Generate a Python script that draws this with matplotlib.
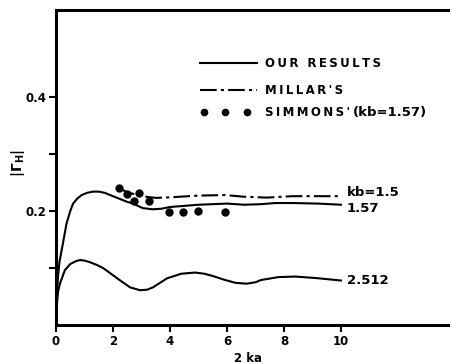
import matplotlib
matplotlib.use("Agg")
import matplotlib.pyplot as plt

# kb = 1.57, our results
x_157 = [0.0, 0.03, 0.07, 0.12, 0.22, 0.37, 0.5, 0.6, 0.75, 0.9, 1.1, 1.3, 1.5, 1.7,
         2.0, 2.2, 2.5, 2.7, 3.05, 3.4, 3.7, 4.0, 4.5, 5.0, 5.5, 6.0, 6.6, 7.2, 7.7,
         8.3, 9.2, 10.0]
y_157 = [0.0, 0.05, 0.085, 0.11, 0.137, 0.178, 0.200, 0.213, 0.222, 0.228, 0.232,
         0.234, 0.234, 0.232, 0.226, 0.222, 0.216, 0.213, 0.205, 0.203, 0.204, 0.207,
         0.209, 0.211, 0.212, 0.213, 0.211, 0.212, 0.214, 0.214, 0.213, 0.211]

# kb = 2.512, our results
x_2512 = [0.0, 0.03, 0.07, 0.14, 0.31, 0.5, 0.7, 0.84, 1.0, 1.2, 1.45, 1.65, 1.9,
          2.2, 2.6, 2.95, 3.2, 3.4, 3.65, 3.9, 4.4, 4.88, 5.2, 5.5, 5.93, 6.3, 6.69,
          7.0, 7.2, 7.8, 8.4, 9.2, 10.0]
y_2512 = [0.0, 0.035, 0.058, 0.073, 0.096, 0.107, 0.112, 0.114, 0.113, 0.110, 0.105,
          0.100, 0.091, 0.080, 0.066, 0.061, 0.062, 0.066, 0.074, 0.082, 0.090,
          0.092, 0.090, 0.086, 0.079, 0.074, 0.0725, 0.075, 0.079, 0.084, 0.085,
          0.082, 0.078]

# Millar's, kb = 1.5
x_millar = [2.2, 2.5, 3.0, 3.5, 4.0, 5.0, 5.93, 6.6, 7.4, 8.3, 9.2, 10.0]
y_millar = [0.240, 0.233, 0.226, 0.223, 0.224, 0.227, 0.228, 0.225, 0.2235, 0.226,
            0.226, 0.226]

# Simmons' points, kb = 1.57
x_simmons = [2.22, 2.5, 2.75, 2.92, 3.26, 3.96, 4.47, 4.99, 5.93]
y_simmons = [0.241, 0.230, 0.218, 0.231, 0.218, 0.198, 0.198, 0.200, 0.198]

curve_labels = ["kb=1.5", "1.57", "2.512"]
legend_texts = ["OUR RESULTS", "MILLAR'S", "SIMMONS'"]
legend_suffix = "(kb=1.57)"

plt.rcParams["font.family"] = ["DejaVu Sans"]
plt.rcParams["font.weight"] = "bold"
plt.rcParams["mathtext.fontset"] = "dejavusans"


def spaced(s):
    # letter-spaced caps like the original typesetting
    return "\u2009".join(s)


fig = plt.figure(figsize=(4.5, 3.64), dpi=100)
ax = fig.add_axes([56 / 450, 39 / 364, 1 - 56 / 450, (325 - 10) / 364])

dashdot = (0, (8, 2, 1.5, 2))
ax.plot(x_157, y_157, color="black", lw=1.5)
ax.plot(x_2512, y_2512, color="black", lw=1.5)
ax.plot(x_millar, y_millar, color="black", lw=1.5, linestyle=dashdot)
ax.plot(x_simmons, y_simmons, "o", color="black", ms=5)

ax.set_xlim(0, (450 - 56) / 28.5)
ax.set_ylim(0, (325 - 10) / 570)

ax.set_xticks([0, 2, 4, 6, 8, 10])
ax.set_yticks([0.1, 0.2, 0.3, 0.4])
ax.set_yticklabels(["", "0.2", "", "0.4"])
ax.tick_params(direction="out", length=5, width=1.5, labelsize=8.5, pad=2)
for lab in ax.get_xticklabels() + ax.get_yticklabels():
    lab.set_fontweight("bold")

ax.spines["right"].set_visible(False)
for s in ["left", "top", "bottom"]:
    ax.spines[s].set_linewidth(2.2)

fig.text(248 / 450, 1 - 358 / 364, "2 ka", fontsize=8.5, fontweight="bold",
         ha="center", va="center")
fig.text(18 / 450, 1 - 163 / 364, r"$|\mathbf{\Gamma}_\mathbf{H}|$", rotation=90,
         fontsize=10, ha="center", va="center")

# curve labels at the right end
ax.text(10.2, y_millar[-1] + 0.006, curve_labels[0], fontsize=9.5, fontweight="bold", va="center")
ax.text(10.2, y_157[-1] - 0.007, curve_labels[1], fontsize=9.5, fontweight="bold", va="center")
ax.text(10.2, y_2512[-1], curve_labels[2], fontsize=9.5, fontweight="bold", va="center")


# hand-drawn legend
def px2data(px, py):
    return (px - 56) / 28.5, (325 - py) / 570


x0, _ = px2data(200, 0)
x1, _ = px2data(257, 0)
xt, _ = px2data(265, 0)
_, yl1 = px2data(0, 63)
_, yl2 = px2data(0, 90)
_, yl3 = px2data(0, 112)
ax.plot([x0, x1], [yl1, yl1], color="black", lw=1.5)
ax.plot([x0, x1], [yl2, yl2], color="black", lw=1.5, linestyle=dashdot)
ax.plot([px2data(p, 0)[0] for p in (204, 225, 247)], [yl3] * 3, "o", color="black", ms=4.5)
ax.text(xt, yl1, spaced(legend_texts[0]), fontsize=8.5, fontweight="bold", va="center")
ax.text(xt, yl2, spaced(legend_texts[1]), fontsize=8.5, fontweight="bold", va="center")
ax.text(xt, yl3, spaced(legend_texts[2]), fontsize=8.5, fontweight="bold", va="center")
xs, _ = px2data(353, 0)
ax.text(xs, yl3, legend_suffix, fontsize=9.5, fontweight="bold", va="center")

fig.savefig("out.png", dpi=100)
